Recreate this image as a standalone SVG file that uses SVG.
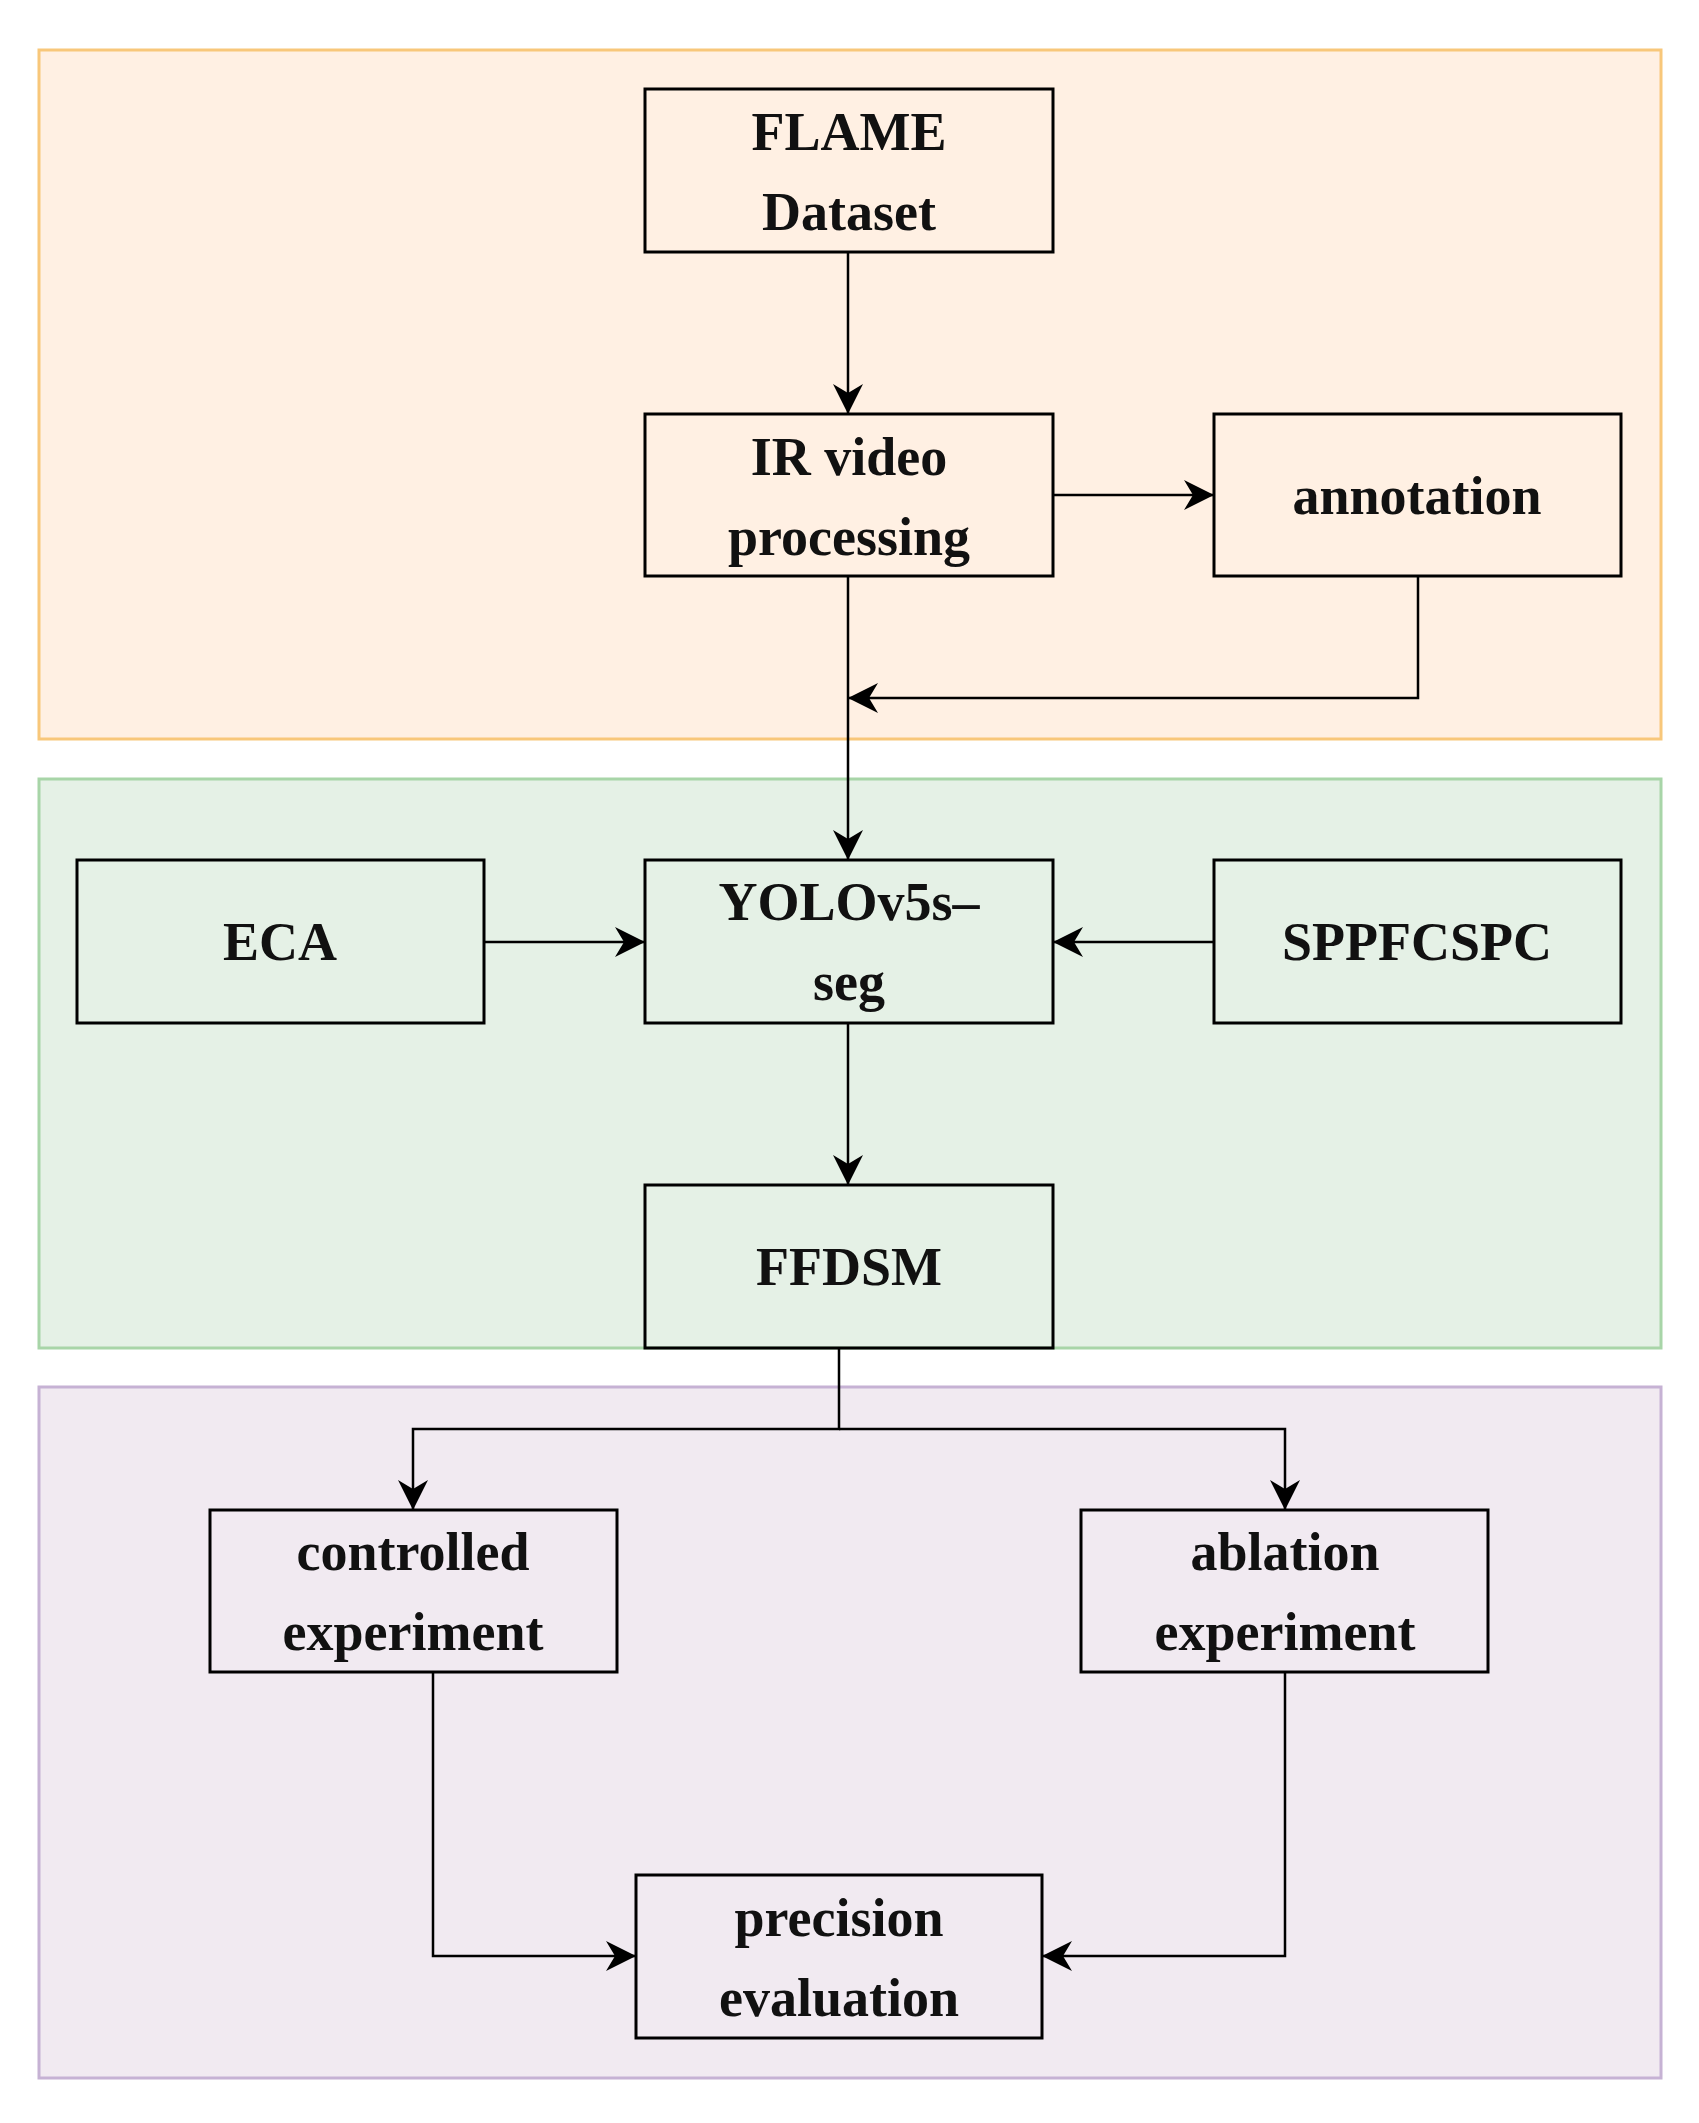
<svg xmlns="http://www.w3.org/2000/svg" width="1699" height="2123" viewBox="0 0 1699 2123">
<style>
.n rect{fill:none;stroke:#000;stroke-width:3}
.n text{font-family:"Liberation Serif",serif;font-weight:bold;font-size:54px;text-anchor:middle;fill:#111}
.c path{fill:none;stroke:#000;stroke-width:2.5}
</style>
<defs><marker id="a" viewBox="0 0 10 10" refX="10" refY="5" markerWidth="14" markerHeight="14" markerUnits="userSpaceOnUse" orient="auto"><path d="M0,0L10,5L0,10L3,5Z" fill="#000" transform="scale(1)"/></marker>
<marker id="b" viewBox="0 0 10 10" refX="10" refY="5" markerWidth="30" markerHeight="30" markerUnits="userSpaceOnUse" orient="auto"><path d="M0,0L10,5L0,10L3,5Z" fill="#000"/></marker></defs>
<rect width="1699" height="2123" fill="#fff"/>
<rect x="39" y="50" width="1622" height="689" fill="#fff0e3" stroke="#f8c77a" stroke-width="3"/>
<rect x="39" y="779" width="1622" height="569" fill="#e5f1e6" stroke="#a8d5a8" stroke-width="3"/>
<rect x="39" y="1387" width="1622" height="691" fill="#f1eaf1" stroke="#c6b2d4" stroke-width="3"/>
<g class="c">
<path d="M848 252V414" marker-end="url(#b)"/>
<path d="M1053 495H1214" marker-end="url(#b)"/>
<path d="M1418 576V698H848" marker-end="url(#b)"/>
<path d="M848 576V860" marker-end="url(#b)"/>
<path d="M484 942H645" marker-end="url(#b)"/>
<path d="M1214 942H1053" marker-end="url(#b)"/>
<path d="M848 1023V1185" marker-end="url(#b)"/>
<path d="M839 1348V1429H413V1510" marker-end="url(#b)"/>
<path d="M839 1429H1285V1510" marker-end="url(#b)"/>
<path d="M433 1672V1956H636" marker-end="url(#b)"/>
<path d="M1285 1672V1956H1042" marker-end="url(#b)"/>
</g>
<g id="flame" class="n"><rect x="645" y="89" width="408" height="163"/><text x="849" y="150">FLAME</text><text x="849" y="230">Dataset</text></g>
<g id="ir" class="n"><rect x="645" y="414" width="408" height="162"/><text x="849" y="475">IR video</text><text x="849" y="555">processing</text></g>
<g id="annotation" class="n"><rect x="1214" y="414" width="407" height="162"/><text x="1417" y="514">annotation</text></g>
<g id="eca" class="n"><rect x="77" y="860" width="407" height="163"/><text x="280" y="960">ECA</text></g>
<g id="yolo" class="n"><rect x="645" y="860" width="408" height="163"/><text x="849" y="920">YOLOv5s–</text><text x="849" y="1000">seg</text></g>
<g id="sppf" class="n"><rect x="1214" y="860" width="407" height="163"/><text x="1417" y="960">SPPFCSPC</text></g>
<g id="ffdsm" class="n"><rect x="645" y="1185" width="408" height="163"/><text x="849" y="1285">FFDSM</text></g>
<g id="controlled" class="n"><rect x="210" y="1510" width="407" height="162"/><text x="413" y="1570">controlled</text><text x="413" y="1650">experiment</text></g>
<g id="ablation" class="n"><rect x="1081" y="1510" width="407" height="162"/><text x="1285" y="1570">ablation</text><text x="1285" y="1650">experiment</text></g>
<g id="precision" class="n"><rect x="636" y="1875" width="406" height="163"/><text x="839" y="1936">precision</text><text x="839" y="2016">evaluation</text></g>
</svg>
